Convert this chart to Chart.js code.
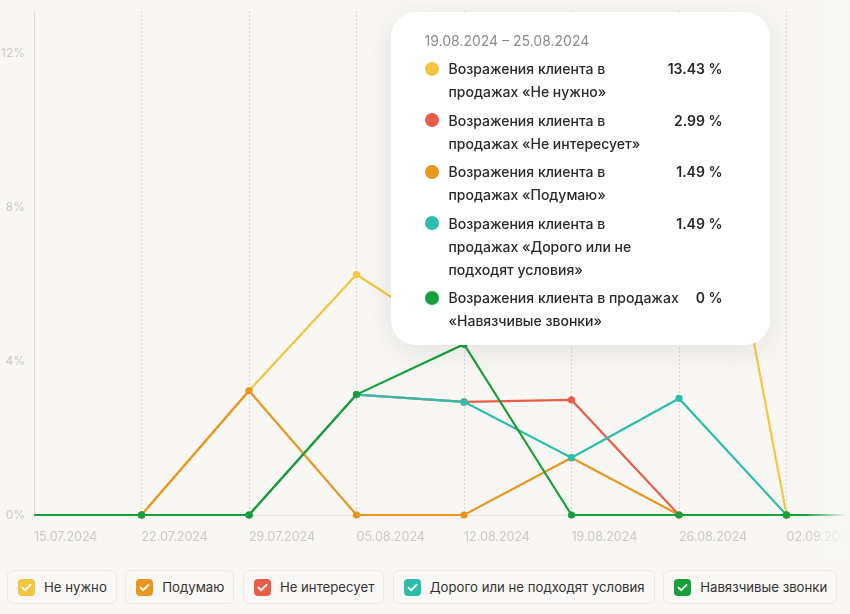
<!DOCTYPE html>
<html lang="ru">
<head>
<meta charset="utf-8">
<title>Возражения клиента в продажах</title>
<script src="https://cdn.jsdelivr.net/npm/chart.js@4.4.1/dist/chart.umd.min.js"></script>
<style>
  html, body { margin: 0; padding: 0; background: #f8f7f4; overflow: hidden; }
  body { width: 850px; height: 614px; position: relative; font-family: Inter, "Noto Sans", sans-serif; }
  #wrap { position: absolute; left: 0; top: 0; width: 900px; height: 550px; }
  #fade { position: absolute; left: 805px; top: 0; width: 45px; height: 560px; pointer-events: none;
          background: linear-gradient(to right, rgba(248,247,244,0), #f8f7f4 92%); }
  #tip { position: absolute; display: none; width: 379px; box-sizing: border-box; padding: 17px 47px 13px 34px;
         background: #fff; border-radius: 25px; box-shadow: 0 6px 28px rgba(60,50,30,0.10); }
  #tip .title { font-size: 14px; line-height: 23px; color: #8d8b88; margin-bottom: 5px; }
  #tip .row { display: flex; align-items: flex-start; margin-bottom: 5.5px; font-size: 14px; line-height: 23px; }
  #tip .row:last-child { margin-bottom: 0; }
  #tip .dot { width: 14px; height: 14px; border-radius: 50%; margin-top: 4.5px; margin-right: 10px; flex: none; }
  #tip .name { flex: 1; color: #2a2927; font-weight: 500; }
  #tip .val { margin-left: 16px; color: #2a2927; font-weight: 600; white-space: nowrap; }
  #legend { position: absolute; left: 7px; top: 570px; display: flex; gap: 8.5px; }
  #legend .item { display: flex; align-items: center; height: 32px; padding: 0 9px 0 10px; border: 1px solid #ebe9e4;
                  border-radius: 6px; background: #f9f8f6; font-size: 13.2px; color: #33322f; white-space: nowrap; }
  #legend .box { width: 17px; height: 17px; border-radius: 4px; margin-right: 9px; display: flex; align-items: center; justify-content: center; }
</style>
</head>
<body>
<div id="wrap"><canvas id="objectionsChart" width="900" height="550"></canvas></div>
<div id="fade"></div>
<div id="tip"></div>
<div id="legend"></div>
<script>
const weeks = ["15.07.2024", "22.07.2024", "29.07.2024", "05.08.2024", "12.08.2024", "19.08.2024", "26.08.2024", "02.09.2024", "09.09.2024"];

const shortNames = ["Не нужно", "Подумаю", "Не интересует", "Дорого или не подходят условия", "Навязчивые звонки"];
const fullNames = [
  "Возражения клиента в продажах «Не нужно»",
  "Возражения клиента в продажах «Подумаю»",
  "Возражения клиента в продажах «Не интересует»",
  "Возражения клиента в продажах «Дорого или не подходят условия»",
  "Возражения клиента в продажах «Навязчивые звонки»"
];
const colors = ["#f5c542", "#e9951e", "#e85e49", "#2dbdab", "#17a03a"];

// values in %
const neNuzhno     = [0, 0, 3.23, 6.25, 4.44, 13.43, 14.8, 0, 0];
const podumayu     = [0, 0, 3.23, 0, 0, 1.49, 0, 0, 0];
const neInteresuet = [0, 0, 0, 3.13, 2.94, 2.99, 0, 0, 0];
const dorogo       = [0, 0, 0, 3.13, 2.94, 1.49, 3.03, 0, 0];
const zvonki       = [0, 0, 0, 3.13, 4.44, 0, 0, 0, 0];
const series = [neNuzhno, podumayu, neInteresuet, dorogo, zvonki];

const yTicks = [0, 4, 8, 12];
const activeWeek = "19.08.2024";

Chart.defaults.font.family = "Inter, 'Noto Sans', sans-serif";

function weekRange(label) {
  const [d, m, y] = label.split(".").map(Number);
  const end = new Date(y, m - 1, d + 6);
  const pad = n => String(n).padStart(2, "0");
  return label + " – " + pad(end.getDate()) + "." + pad(end.getMonth() + 1) + "." + end.getFullYear();
}

function renderTip(context) {
  const tip = context.tooltip;
  const el = document.getElementById("tip");
  if (tip.opacity === 0 || !tip.dataPoints) {
    el.style.display = "none";
    return;
  }
  let html = '<div class="title">' + tip.title[0] + "</div>";
  tip.dataPoints.forEach(p => {
    html += '<div class="row"><span class="dot" style="background:' + colors[p.datasetIndex] + '"></span>' +
      '<span class="name">' + p.dataset.label + '</span>' +
      '<span class="val">' + Number(p.raw.toFixed(2)) + " %</span></div>";
  });
  el.innerHTML = html;
  el.style.display = "block";
  el.style.left = (tip.caretX - 181) + "px";
  el.style.top = (context.chart.chartArea.top + 1) + "px";
}

const datasets = series.map((data, i) => ({
  label: fullNames[i],
  data: data,
  borderColor: colors[i],
  backgroundColor: colors[i],
  borderWidth: 2.2,
  pointRadius: ctx => ctx.dataIndex === 0 ? 0 : 3.6,
  pointHoverRadius: 3.6,
  pointBorderWidth: 0,
  tension: 0,
  order: series.length - 1 - i,
  clip: { left: 5, top: -1, right: 5, bottom: 5 }
}));

const canvas = document.getElementById("objectionsChart");
const chart = new Chart(canvas, {
  type: "line",
  data: { labels: weeks, datasets: datasets },
  options: {
    responsive: false,
    animation: false,
    events: [],
    layout: { padding: { top: 11, right: 6 } },
    interaction: { mode: "index", intersect: false },
    plugins: {
      legend: { display: false },
      tooltip: {
        enabled: false,
        external: renderTip,
        itemSort: (a, b) => (b.raw - a.raw) || (a.datasetIndex - b.datasetIndex),
        callbacks: { title: items => weekRange(items[0].label) }
      }
    },
    scales: {
      x: {
        grid: { color: "#d9d7d2", drawTicks: false },
        border: { color: "#e2e0db", dash: [2, 2] },
        ticks: { align: "start", padding: 15, color: "#cdcbc7", font: { size: 12.5 }, maxRotation: 0, autoSkip: false },
        afterFit(scale) {
          scale.height = 35;
          scale.paddingLeft = 0;
          scale.paddingRight = 0;
        }
      },
      y: {
        min: 0,
        max: 13.1,
        grid: { display: false, drawTicks: false },
        border: { color: "#dedcd7" },
        ticks: { stepSize: 4, padding: 9, color: "#cdcbc7", font: { size: 12 }, callback: v => v + "%" },
        afterBuildTicks(scale) {
          scale.ticks = scale.ticks.filter(t => yTicks.includes(t.value));
        },
        afterFit(scale) {
          scale.width = 34;
          scale.paddingTop = 0;
          scale.paddingBottom = 0;
        }
      }
    }
  }
});

const activeIndex = weeks.indexOf(activeWeek);
chart.tooltip.setActiveElements(
  datasets.map((d, i) => ({ datasetIndex: i, index: activeIndex })),
  { x: chart.scales.x.getPixelForValue(activeIndex), y: chart.chartArea.top }
);

// legend with checkboxes
const legend = document.getElementById("legend");
shortNames.forEach((name, i) => {
  const item = document.createElement("div");
  item.className = "item";
  item.innerHTML = '<span class="box" style="background:' + colors[i] + '">' +
    '<svg width="11" height="9" viewBox="0 0 11 9"><path d="M1.5 4.6 L4.2 7.2 L9.5 1.8" fill="none" stroke="#fff" stroke-width="1.9" stroke-linecap="round" stroke-linejoin="round"/></svg>' +
    "</span>" + name;
  legend.appendChild(item);
});
</script>
</body>
</html>
